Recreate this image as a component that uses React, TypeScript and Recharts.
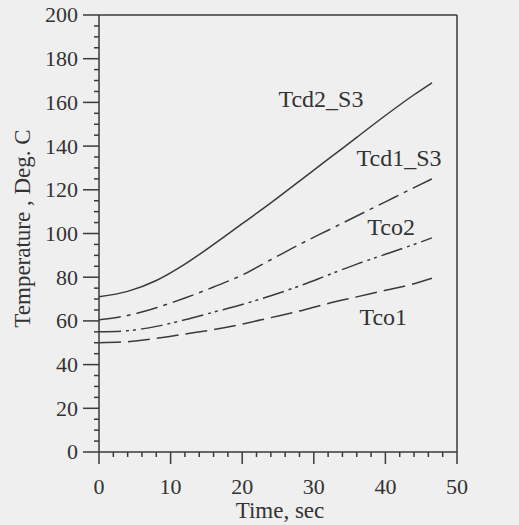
import React from 'react';
import { LineChart, Line, XAxis, YAxis, ReferenceLine, ReferenceDot } from 'recharts';

const timeSec = [0, 4, 8, 12, 16, 20, 24, 28, 32, 36, 40, 44, 46.5];
const tcd2S3 = [71, 73.5, 78.5, 86, 95, 104.5, 114, 124, 134, 144, 154, 163.5, 169];
const tcd1S3 = [60.5, 62.5, 66, 70.5, 75.5, 81, 88, 95, 101.5, 108, 114.5, 121, 125];
const tco2 = [55, 55.5, 57.5, 60.5, 64, 67.5, 71.5, 76, 81, 86, 90.5, 95, 98];
const tco1 = [50, 50.5, 52, 54, 56, 58.5, 61.5, 64.5, 68, 71, 74, 77, 79.5];

const xTicks = [0, 2, 4, 6, 8, 10, 12, 14, 16, 18, 20, 22, 24, 26, 28, 30, 32, 34, 36, 38, 40, 42, 44, 46, 48, 50];
const yTicks = [0, 5, 10, 15, 20, 25, 30, 35, 40, 45, 50, 55, 60, 65, 70, 75, 80, 85, 90, 95, 100, 105, 110, 115, 120, 125, 130, 135, 140, 145, 150, 155, 160, 165, 170, 175, 180, 185, 190, 195, 200];

const data = timeSec.map((t, i) => ({
  t,
  tcd2: tcd2S3[i],
  tcd1: tcd1S3[i],
  tco2: tco2[i],
  tco1: tco1[i],
}));

const INK = '#3a3a3a';
const TXT = '#333333';
const FONT = '"Liberation Serif", "Times New Roman", serif';

const LeftTick = (props: any) => {
  const { x, y, payload } = props;
  const v = payload.value;
  const major = v % 20 === 0;
  return (
    <g>
      <line x1={x - (major ? 16 : 5)} x2={x} y1={y} y2={y} stroke={INK} strokeWidth={1.5} />
      {major && (
        <text x={x - 21} y={y} dy="0.34em" textAnchor="end" fontSize={22} fontFamily={FONT} fill={TXT}>
          {v}
        </text>
      )}
    </g>
  );
};

const RightTick = (props: any) => {
  const { x, y, payload } = props;
  const v = payload.value;
  const major = v % 20 === 0;
  return (
    <g>
      <line x1={x} x2={x + (major ? 16 : 5)} y1={y} y2={y} stroke={INK} strokeWidth={1.5} />
      {major && (
        <text x={x + 21} y={y} dy="0.34em" textAnchor="start" fontSize={22} fontFamily={FONT} fill={TXT}>
          {v}
        </text>
      )}
    </g>
  );
};

const BottomTick = (props: any) => {
  const { x, y, payload } = props;
  const v = payload.value;
  const major = v % 10 === 0;
  return (
    <g>
      <line x1={x} x2={x} y1={y} y2={y + (major ? 12 : 5)} stroke={INK} strokeWidth={1.5} />
      {major && (
        <text x={x} y={y + 42} textAnchor="middle" fontSize={22} fontFamily={FONT} fill={TXT}>
          {v}
        </text>
      )}
    </g>
  );
};

const YTitle = (props: any) => {
  const { viewBox } = props;
  const cx = viewBox.x + 3;
  const cy = viewBox.y + viewBox.height / 2 - 5;
  return (
    <text
      x={cx}
      y={cy}
      dy="0.34em"
      textAnchor="middle"
      transform={`rotate(-90 ${cx} ${cy})`}
      fontSize={23}
      fontFamily={FONT}
      fill={TXT}
    >
      Temperature , Deg. C
    </text>
  );
};

const XTitle = (props: any) => {
  const { viewBox } = props;
  const cx = viewBox.x + viewBox.width / 2 + 2;
  const by = viewBox.y + 66;
  return (
    <text x={cx} y={by} textAnchor="middle" fontSize={23} fontFamily={FONT} fill={TXT}>
      Time, sec
    </text>
  );
};

const seriesLabel = (text: string) => ({
  value: text,
  position: 'center' as const,
  fontSize: 24,
  fontFamily: FONT,
  fill: TXT,
});

export default function App() {
  return (
    <div style={{ position: 'absolute', left: 0, top: 0, width: 519, height: 525, background: '#efefef' }}>
      <LineChart
        width={519}
        height={525}
        data={data}
        margin={{ top: 15, right: 12, bottom: 13, left: 19 }}
      >
        <XAxis
          dataKey="t"
          type="number"
          domain={[0, 50]}
          ticks={xTicks}
          interval={0}
          tickLine={false}
          tickSize={0}
          tickMargin={0}
          tick={<BottomTick />}
          height={60}
          axisLine={{ stroke: INK, strokeWidth: 1.5 }}
          label={{ content: <XTitle /> }}
        />
        <YAxis
          yAxisId="left"
          type="number"
          domain={[0, 200]}
          ticks={yTicks}
          interval={0}
          tickLine={false}
          tickSize={0}
          tickMargin={0}
          tick={<LeftTick />}
          width={80}
          axisLine={{ stroke: INK, strokeWidth: 1.5 }}
          label={{ content: <YTitle /> }}
        />
        <YAxis
          yAxisId="right"
          orientation="right"
          type="number"
          domain={[0, 200]}
          ticks={yTicks}
          interval={0}
          tickLine={false}
          tickSize={0}
          tickMargin={0}
          tick={<RightTick />}
          width={50}
          axisLine={{ stroke: INK, strokeWidth: 1.5 }}
        />
        <ReferenceLine yAxisId="left" y={200} stroke={INK} strokeWidth={1.5} />
        <Line yAxisId="left" type="monotone" dataKey="tcd2" stroke={INK} strokeWidth={1.5} dot={false} isAnimationActive={false} />
        <Line yAxisId="left" type="monotone" dataKey="tcd1" stroke={INK} strokeWidth={1.5} strokeDasharray="22 6 4 6" dot={false} isAnimationActive={false} />
        <Line yAxisId="left" type="monotone" dataKey="tco2" stroke={INK} strokeWidth={1.5} strokeDasharray="22 5 3 4 3 5" dot={false} isAnimationActive={false} />
        <Line yAxisId="left" type="monotone" dataKey="tco1" stroke={INK} strokeWidth={1.5} strokeDasharray="22 7" dot={false} isAnimationActive={false} />
        <ReferenceDot yAxisId="left" x={31} y={162} r={0} stroke="none" fill="none" label={seriesLabel('Tcd2_S3')} />
        <ReferenceDot yAxisId="left" x={41.9} y={135} r={0} stroke="none" fill="none" label={seriesLabel('Tcd1_S3')} />
        <ReferenceDot yAxisId="left" x={40.8} y={103} r={0} stroke="none" fill="none" label={seriesLabel('Tco2')} />
        <ReferenceDot yAxisId="left" x={39.7} y={62.2} r={0} stroke="none" fill="none" label={seriesLabel('Tco1')} />
      </LineChart>
    </div>
  );
}
